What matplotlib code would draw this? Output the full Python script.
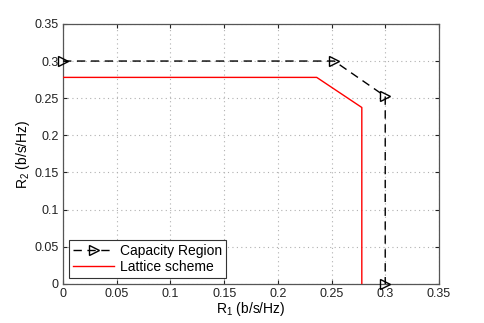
import matplotlib
matplotlib.use('Agg')
import matplotlib.pyplot as plt

# capacity region corner points
cap_r1 = [0.0, 0.2525, 0.3, 0.3]
cap_r2 = [0.3, 0.3, 0.2525, 0.0]

# lattice scheme achievable region
lat_r1 = [0.0, 0.2362, 0.2782, 0.2782]
lat_r2 = [0.2780, 0.2780, 0.2375, 0.0]

ticks = [0, 0.05, 0.1, 0.15, 0.2, 0.25, 0.3, 0.35]
tick_labels = ['0', '0.05', '0.1', '0.15', '0.2', '0.25', '0.3', '0.35']

plt.rcParams['font.family'] = ['Liberation Sans', 'DejaVu Sans']
plt.rcParams['mathtext.fontset'] = 'custom'
plt.rcParams['mathtext.rm'] = 'Liberation Sans'
fig = plt.figure(figsize=(4.85, 3.23), dpi=100)
ax = fig.add_axes([0.130, 0.121, 0.775, 0.805])

ax.plot(cap_r1, cap_r2, 'k--', marker='>', markersize=6.5, markerfacecolor='none',
        markeredgecolor='k', linewidth=1.0, dashes=(6, 4), label='Capacity Region',
        clip_on=False, zorder=3)
ax.plot(lat_r1, lat_r2, 'r-', linewidth=1.0, label='Lattice scheme', zorder=3)

ax.set_xlim(0, 0.35)
ax.set_ylim(0, 0.35)
ax.set_xticks(ticks)
ax.set_xticklabels(tick_labels)
ax.set_yticks(ticks)
ax.set_yticklabels(tick_labels)
ax.tick_params(direction='in', labelsize=9, length=3, top=True, right=True, pad=3,
               colors='#222222')
ax.grid(True, linestyle=(0, (1, 3)), color='#b0b0b0', linewidth=0.8)
for s in ax.spines.values():
    s.set_color('#555555')
    s.set_linewidth(0.9)

ax.set_xlabel(r'R$_\mathrm{1}$ (b/s/Hz)', fontsize=10, labelpad=0)
ax.set_ylabel(r'R$_\mathrm{2}$ (b/s/Hz)', fontsize=10, labelpad=2)

leg = ax.legend(loc='lower left', fontsize=10, fancybox=False, framealpha=1,
                edgecolor='#333333', borderpad=0.3, handlelength=3,
                borderaxespad=0.4, labelspacing=0.15, handletextpad=0.4)
leg.get_frame().set_linewidth(0.8)

fig.savefig('out.png', dpi=100)
